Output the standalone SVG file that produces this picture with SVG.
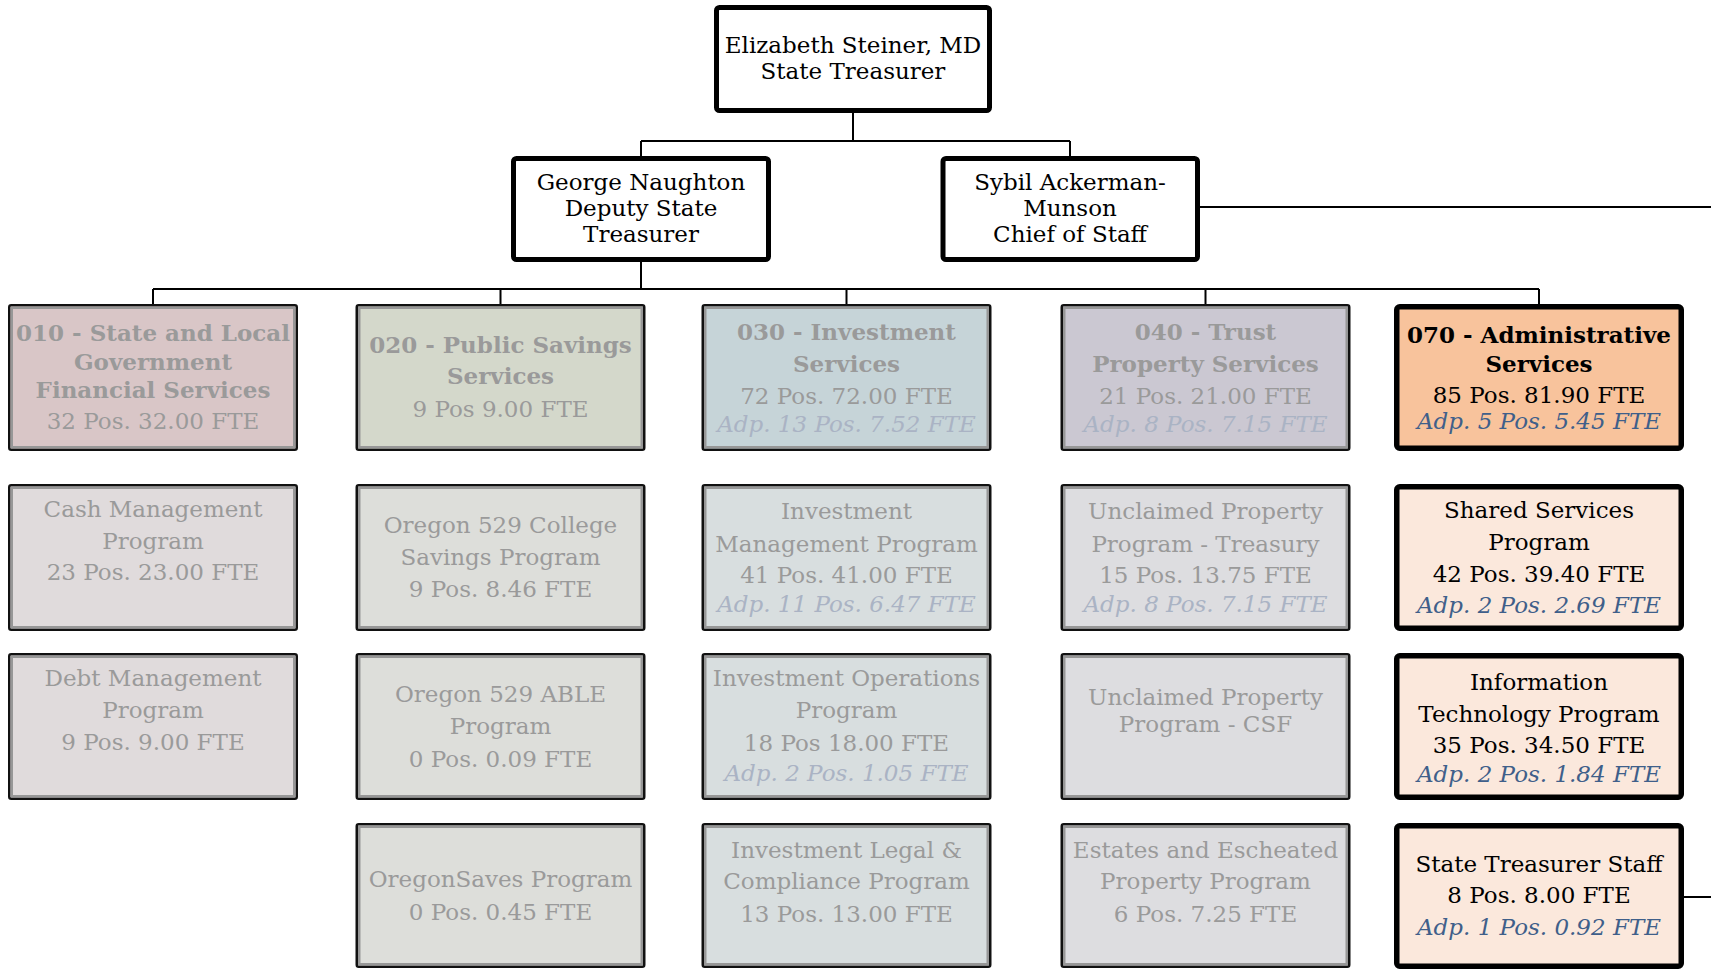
<svg xmlns="http://www.w3.org/2000/svg" width="1711" height="969" viewBox="0 0 1711 969">
  <style>
    text { font-family: "DejaVu Serif", "Liberation Serif", serif; font-size: 23px; text-anchor: middle; }
    .b { font-weight: bold; }
    .i { font-style: italic; }
    .exec { fill: #ffffff; stroke: #000000; stroke-width: 5; }
    .act { stroke: #000000; stroke-width: 5.5; }
    .edge { stroke: #111111; stroke-width: 2.5; }
    .inner { fill: none; stroke: #979797; stroke-width: 2.5; }
    .f010 { fill: #d9c6c7; } .c010 { fill: #e0dbdc; }
    .f020 { fill: #d4d8cb; } .c020 { fill: #dddeda; }
    .f030 { fill: #c6d4d8; } .c030 { fill: #d8dedf; }
    .f040 { fill: #cbc8d2; } .c040 { fill: #dddde0; }
    .f070 { fill: #f8c39c; } .c070 { fill: #fbe8dc; }
    .dim text { fill: #9a9a9a; }
    .dim text.i { fill: #aab3c4; }
    .on text { fill: #000000; }
    .on text.i { fill: #3f5f8a; }
    .conn { fill: none; stroke: #000000; stroke-width: 2; }
  </style>

  <!-- reporting lines -->
  <g id="connectors" class="conn">
    <path d="M853 113 V141 M641 141 H1070 M641 141 V156 M1070 141 V156"/>
    <path d="M1200 207 H1711"/>
    <path d="M641 262 V289 M153 289 H1539"/>
    <path d="M153 289 V304 M500.5 289 V304 M846.5 289 V304 M1205.5 289 V304 M1539 289 V304"/>
    <path d="M1684 897 H1711"/>
  </g>

  <!-- executives -->
  <g id="treasurer">
    <rect class="exec" x="716.5" y="7.5" width="273" height="103" rx="3"/>
    <text x="853" y="53">Elizabeth Steiner, MD</text>
    <text x="853" y="79">State Treasurer</text>
  </g>
  <g id="deputy">
    <rect class="exec" x="513.5" y="158.5" width="255" height="101" rx="3"/>
    <text x="641" y="190">George Naughton</text>
    <text x="641" y="216">Deputy State</text>
    <text x="641" y="242">Treasurer</text>
  </g>
  <g id="chief-of-staff">
    <rect class="exec" x="943" y="158.5" width="254.5" height="101" rx="3"/>
    <text x="1070" y="190">Sybil Ackerman-</text>
    <text x="1070" y="216">Munson</text>
    <text x="1070" y="242">Chief of Staff</text>
  </g>

  <!-- 010 State and Local Government Financial Services -->
  <g id="n010" class="dim">
    <rect class="edge f010" x="9.25" y="305.25" width="287.5" height="144.5" rx="2"/>
    <rect class="inner" x="11.75" y="307.75" width="282.5" height="139.5"/>
    <text class="b" x="153" y="341">010 - State and Local</text>
    <text class="b" x="153" y="370">Government</text>
    <text class="b" x="153" y="398">Financial Services</text>
    <text x="153" y="429">32 Pos. 32.00 FTE</text>
  </g>
  <g id="n010-cash" class="dim">
    <rect class="edge c010" x="9.25" y="485.25" width="287.5" height="144.5" rx="2"/>
    <rect class="inner" x="11.75" y="487.75" width="282.5" height="139.5"/>
    <text x="153" y="517">Cash Management</text>
    <text x="153" y="549">Program</text>
    <text x="153" y="580">23 Pos. 23.00 FTE</text>
  </g>
  <g id="n010-debt" class="dim">
    <rect class="edge c010" x="9.25" y="654.25" width="287.5" height="144.5" rx="2"/>
    <rect class="inner" x="11.75" y="656.75" width="282.5" height="139.5"/>
    <text x="153" y="686">Debt Management</text>
    <text x="153" y="718">Program</text>
    <text x="153" y="750">9 Pos. 9.00 FTE</text>
  </g>

  <!-- 020 Public Savings Services -->
  <g id="n020" class="dim">
    <rect class="edge f020" x="356.75" y="305.25" width="287.5" height="144.5" rx="2"/>
    <rect class="inner" x="359.25" y="307.75" width="282.5" height="139.5"/>
    <text class="b" x="500.5" y="353">020 - Public Savings</text>
    <text class="b" x="500.5" y="384">Services</text>
    <text x="500.5" y="417">9 Pos 9.00 FTE</text>
  </g>
  <g id="n020-college" class="dim">
    <rect class="edge c020" x="356.75" y="485.25" width="287.5" height="144.5" rx="2"/>
    <rect class="inner" x="359.25" y="487.75" width="282.5" height="139.5"/>
    <text x="500.5" y="533">Oregon 529 College</text>
    <text x="500.5" y="565">Savings Program</text>
    <text x="500.5" y="597">9 Pos. 8.46 FTE</text>
  </g>
  <g id="n020-able" class="dim">
    <rect class="edge c020" x="356.75" y="654.25" width="287.5" height="144.5" rx="2"/>
    <rect class="inner" x="359.25" y="656.75" width="282.5" height="139.5"/>
    <text x="500.5" y="702">Oregon 529 ABLE</text>
    <text x="500.5" y="734">Program</text>
    <text x="500.5" y="767">0 Pos. 0.09 FTE</text>
  </g>
  <g id="n020-oregonsaves" class="dim">
    <rect class="edge c020" x="356.75" y="824.25" width="287.5" height="142.5" rx="2"/>
    <rect class="inner" x="359.25" y="826.75" width="282.5" height="137.5"/>
    <text x="500.5" y="887">OregonSaves Program</text>
    <text x="500.5" y="920">0 Pos. 0.45 FTE</text>
  </g>

  <!-- 030 Investment Services -->
  <g id="n030" class="dim">
    <rect class="edge f030" x="702.75" y="305.25" width="287.5" height="144.5" rx="2"/>
    <rect class="inner" x="705.25" y="307.75" width="282.5" height="139.5"/>
    <text class="b" x="846.5" y="340">030 - Investment</text>
    <text class="b" x="846.5" y="372">Services</text>
    <text x="846.5" y="404">72 Pos. 72.00 FTE</text>
    <text class="i" x="846.5" y="432">Adp. 13 Pos. 7.52 FTE</text>
  </g>
  <g id="n030-management" class="dim">
    <rect class="edge c030" x="702.75" y="485.25" width="287.5" height="144.5" rx="2"/>
    <rect class="inner" x="705.25" y="487.75" width="282.5" height="139.5"/>
    <text x="846.5" y="519">Investment</text>
    <text x="846.5" y="552">Management Program</text>
    <text x="846.5" y="583">41 Pos. 41.00 FTE</text>
    <text class="i" x="846.5" y="612">Adp. 11 Pos. 6.47 FTE</text>
  </g>
  <g id="n030-operations" class="dim">
    <rect class="edge c030" x="702.75" y="654.25" width="287.5" height="144.5" rx="2"/>
    <rect class="inner" x="705.25" y="656.75" width="282.5" height="139.5"/>
    <text x="846.5" y="686">Investment Operations</text>
    <text x="846.5" y="718">Program</text>
    <text x="846.5" y="751">18 Pos 18.00 FTE</text>
    <text class="i" x="846.5" y="781">Adp. 2 Pos. 1.05 FTE</text>
  </g>
  <g id="n030-legal" class="dim">
    <rect class="edge c030" x="702.75" y="824.25" width="287.5" height="142.5" rx="2"/>
    <rect class="inner" x="705.25" y="826.75" width="282.5" height="137.5"/>
    <text x="846.5" y="858">Investment Legal &amp;</text>
    <text x="846.5" y="889">Compliance Program</text>
    <text x="846.5" y="922">13 Pos. 13.00 FTE</text>
  </g>

  <!-- 040 Trust Property Services -->
  <g id="n040" class="dim">
    <rect class="edge f040" x="1061.75" y="305.25" width="287.5" height="144.5" rx="2"/>
    <rect class="inner" x="1064.25" y="307.75" width="282.5" height="139.5"/>
    <text class="b" x="1205.5" y="340">040 - Trust</text>
    <text class="b" x="1205.5" y="372">Property Services</text>
    <text x="1205.5" y="404">21 Pos. 21.00 FTE</text>
    <text class="i" x="1205.5" y="432">Adp. 8 Pos. 7.15 FTE</text>
  </g>
  <g id="n040-treasury" class="dim">
    <rect class="edge c040" x="1061.75" y="485.25" width="287.5" height="144.5" rx="2"/>
    <rect class="inner" x="1064.25" y="487.75" width="282.5" height="139.5"/>
    <text x="1205.5" y="519">Unclaimed Property</text>
    <text x="1205.5" y="552">Program - Treasury</text>
    <text x="1205.5" y="583">15 Pos. 13.75 FTE</text>
    <text class="i" x="1205.5" y="612">Adp. 8 Pos. 7.15 FTE</text>
  </g>
  <g id="n040-csf" class="dim">
    <rect class="edge c040" x="1061.75" y="654.25" width="287.5" height="144.5" rx="2"/>
    <rect class="inner" x="1064.25" y="656.75" width="282.5" height="139.5"/>
    <text x="1205.5" y="705">Unclaimed Property</text>
    <text x="1205.5" y="732">Program - CSF</text>
  </g>
  <g id="n040-estates" class="dim">
    <rect class="edge c040" x="1061.75" y="824.25" width="287.5" height="142.5" rx="2"/>
    <rect class="inner" x="1064.25" y="826.75" width="282.5" height="137.5"/>
    <text x="1205.5" y="858">Estates and Escheated</text>
    <text x="1205.5" y="889">Property Program</text>
    <text x="1205.5" y="922">6 Pos. 7.25 FTE</text>
  </g>

  <!-- 070 Administrative Services -->
  <g id="n070" class="on">
    <rect class="act f070" x="1396.75" y="306.75" width="284.5" height="141.5" rx="3"/>
    <text class="b" x="1539" y="343">070 - Administrative</text>
    <text class="b" x="1539" y="372">Services</text>
    <text x="1539" y="403">85 Pos. 81.90 FTE</text>
    <text class="i" x="1539" y="429">Adp. 5 Pos. 5.45 FTE</text>
  </g>
  <g id="n070-shared" class="on">
    <rect class="act c070" x="1396.75" y="486.75" width="284.5" height="141.5" rx="3"/>
    <text x="1539" y="518">Shared Services</text>
    <text x="1539" y="550">Program</text>
    <text x="1539" y="582">42 Pos. 39.40 FTE</text>
    <text class="i" x="1539" y="613">Adp. 2 Pos. 2.69 FTE</text>
  </g>
  <g id="n070-it" class="on">
    <rect class="act c070" x="1396.75" y="655.75" width="284.5" height="141.5" rx="3"/>
    <text x="1539" y="690">Information</text>
    <text x="1539" y="722">Technology Program</text>
    <text x="1539" y="753">35 Pos. 34.50 FTE</text>
    <text class="i" x="1539" y="782">Adp. 2 Pos. 1.84 FTE</text>
  </g>
  <g id="n070-staff" class="on">
    <rect class="act c070" x="1396.75" y="825.75" width="284.5" height="140.5" rx="3"/>
    <text x="1539" y="872">State Treasurer Staff</text>
    <text x="1539" y="903">8 Pos. 8.00 FTE</text>
    <text class="i" x="1539" y="935">Adp. 1 Pos. 0.92 FTE</text>
  </g>
</svg>
